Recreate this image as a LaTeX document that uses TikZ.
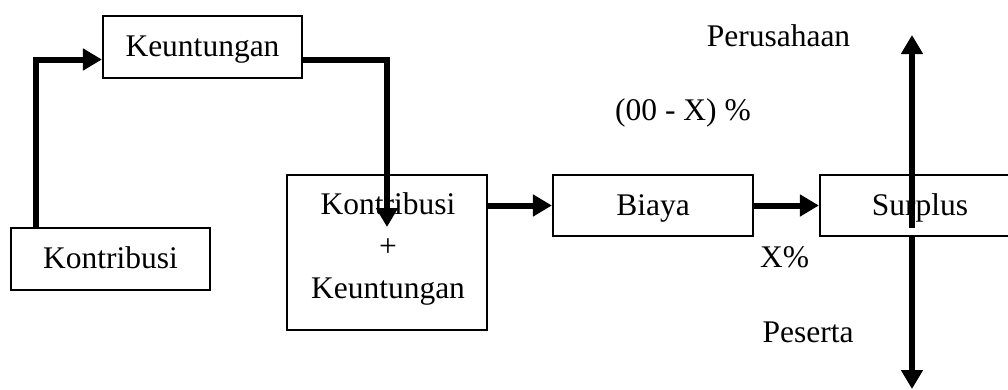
\documentclass[tikz,border=0pt]{standalone}
\usepackage{fontspec}
\setmainfont{Liberation Serif}
\usetikzlibrary{arrows.meta}
\begin{document}
\begin{tikzpicture}[x=1pt,y=-1pt,
  bigfont/.style={font=\fontsize{31.5}{42}\selectfont},
  box/.style={draw, line width=2.2pt, rectangle, inner sep=0pt, bigfont,
              text height=24pt, text depth=5pt},
  txt/.style={inner sep=0pt, bigfont},
  arr/.style={line width=6pt, -{Triangle[length=19pt,width=21pt]}}]
\useasboundingbox (0,0) rectangle (1008,389);

% boxes
\node[box, minimum width=199pt, minimum height=62pt] (keu) at (202.5,47) {Keuntungan};
\node[box, minimum width=199pt, minimum height=62pt] (kon) at (110.5,259) {Kontribusi};
\node[box, minimum width=200pt, minimum height=155pt] (kk) at (387,252.5) {};
\node[txt, align=center, anchor=north] (kktxt) at (388,192.5) {Kontribusi\\+\\Keuntungan};
\node[box, minimum width=200pt, minimum height=61pt] (biaya) at (653,205.5) {Biaya};
\node[box, minimum width=200pt, minimum height=61pt] (surplus) at (920,205.5) {Surplus};

% free labels
\node[txt, anchor=base] (per) at (778.5,46) {Perusahaan};
\node[txt, anchor=base] (pct) at (683,120) {(00 - X) \%};
\node[txt, anchor=base] (xp) at (784.5,267) {X\%};
\node[txt, anchor=base] (pes) at (808,342) {Peserta};

% connector end points
\coordinate (kA) at (36,228);
\coordinate (kB) at (0,59.5);
\coordinate (kkin) at (387,227);
\coordinate (supA) at (912,228);
\coordinate (perTip) at (912,35);
\coordinate (pesTip) at (912,389);

% connectors
\draw[arr] (kA) |- (keu.west |- kB);
\draw[arr] (keu.east |- kB) -| (kkin);
\draw[arr] (kk.east |- biaya.west) -- (biaya.west);
\draw[arr] (biaya.east) -- (surplus.west);
\draw[arr] (supA) -- (perTip);
\draw[arr] (surplus.south -| supA) -- (pesTip);
\end{tikzpicture}
\end{document}
